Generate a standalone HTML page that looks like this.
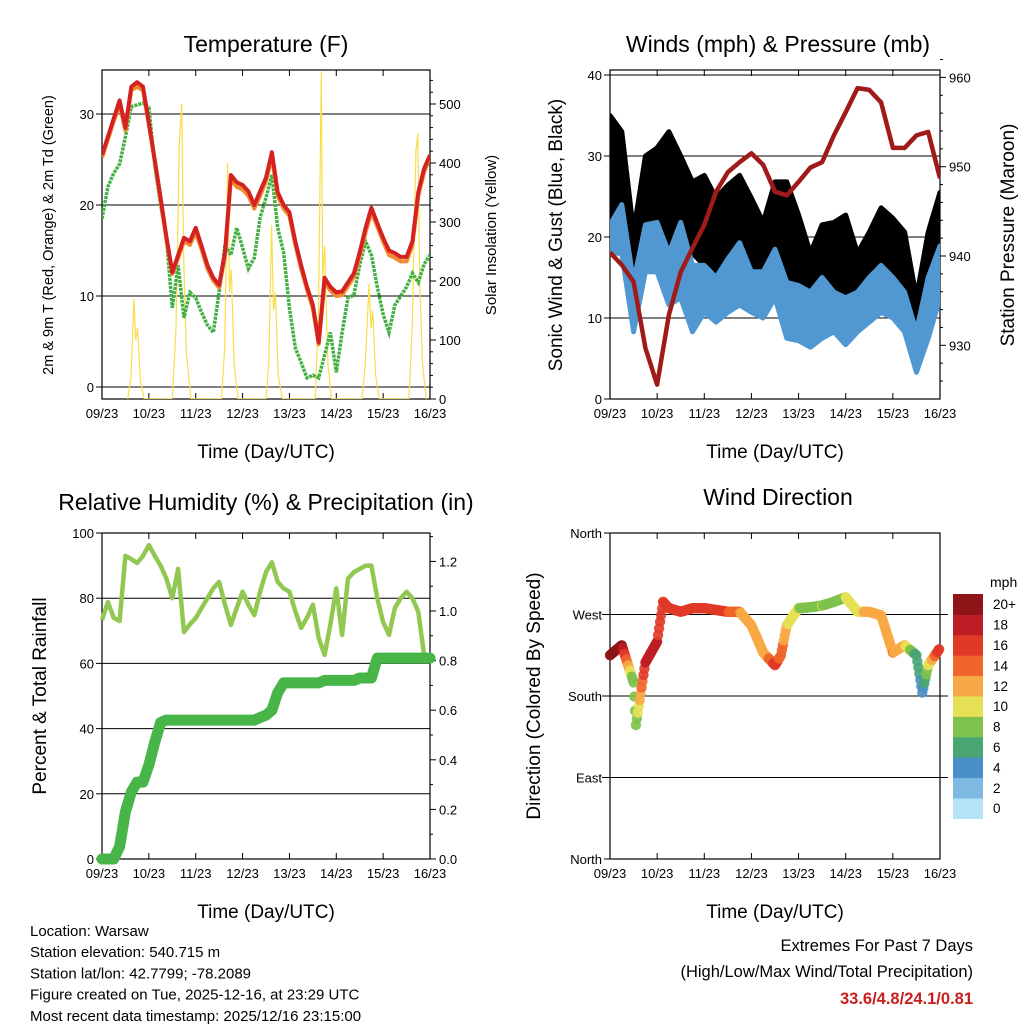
<!DOCTYPE html>
<html><head><meta charset="utf-8"><style>
html,body{margin:0;padding:0;background:#fff;}
svg{display:block;font-family:"Liberation Sans",sans-serif;}
</style></head><body>
<svg id="c" width="1024" height="1024" viewBox="0 0 1024 1024" xmlns="http://www.w3.org/2000/svg"></svg>
<script>
// ---------- data (time in days since 09/23, 3-hourly) ----------
const dayLabels = ["09/23","10/23","11/23","12/23","13/23","14/23","15/23","16/23"];
const temp2m = [25.5,27.5,29.5,31.5,28.5,33,33.5,33,29,25,20.8,16.5,12.6,14.5,16.4,16,17.5,15.5,13.4,12,11.2,14.8,23.3,22.5,22.2,21.5,20,21.5,23,25.8,21.4,20,19.2,16,13.4,11,9,4.9,12,11,10.4,10.5,11.5,12.5,14.8,17.5,19.7,18,16.4,15,14.7,14.3,14.3,16,21.4,24,25.5];
const temp9m = [25.2,27.2,29.2,31,28.2,32.6,33,32.6,28.8,24.8,20.5,16.2,12.4,14.2,16,15.6,17,15.1,13,11.7,10.9,14.4,22.8,22,21.7,21,19.6,21,22.6,25.3,21,19.6,18.8,15.6,13,10.7,8.6,4.7,11.6,10.6,10,10.1,11.1,12.1,14.4,17,19.2,17.6,16,14.5,14.2,13.8,13.8,15.6,21,23.6,25.2];
const dewpt = [18.5,22,23.5,24.5,27.5,30.8,31,31.2,30.7,24.4,20,16.4,8.7,13.4,7.6,10.4,9.8,8.2,6.8,6,10.4,15.6,14.5,17.5,15.3,13,14.2,18.6,20.8,23.3,17.5,14.8,8.7,4.3,2.7,1,1.3,1,3.5,6,1.6,6,9.8,10.1,13.4,16,14.5,11,8,6,9,10,11,12.5,11.5,13.5,14.5];
const solarT = [0.55,0.62,0.68,0.72,0.76,0.82,0.9, 1.5,1.58,1.65,1.7,1.74,1.8,1.9, 2.55,2.62,2.68,2.72,2.76,2.82,2.9, 3.5,3.56,3.62,3.66,3.7,3.76,3.85, 4.55,4.62,4.68,4.71,4.75,4.82,4.9, 5.55,5.62,5.7,5.74,5.78,5.84,5.92, 6.55,6.62,6.7,6.74,6.78,6.84,6.92];
const solarV = [0,40,170,100,120,30,0, 0,120,430,500,250,80,0, 0,90,400,180,220,60,0, 0,60,295,150,180,40,0, 0,150,555,200,260,60,0, 0,60,195,120,150,40,0, 0,120,420,450,200,60,0];
// 6-hourly winds (29 values)
const gustHi = [35,33,20.6,30,31,33,30,26.8,27.6,24.8,26.4,27.6,24.8,21.8,26.8,26.8,22.7,18,21.5,21.8,22.7,18,20.6,23.6,22.3,20.6,12.5,20.6,25.5];
const gustLo = [18,25,12.5,20,20.6,18,15.7,18,16.5,12.5,16.5,16.5,15.7,15.7,18,15.7,12.5,10,12.5,13.2,12.5,10.7,13.2,15,15,12.5,6.7,12.5,18];
const windHi = [21.5,24,14.4,21.5,21.8,18,21.8,16.5,16.5,15,17.3,19.3,15.7,15.7,18.5,14.4,14,13.2,15,13.2,12.5,13.2,15,16.5,15,13.2,8.3,15,18.9];
const windLo = [18,18,8.3,15.7,15.7,11.6,12.5,8.3,10.7,9.5,10.7,11.6,10.7,10,12.5,7.5,7.2,6.4,7.5,8.3,6.7,8.3,9.5,10.7,10,8.3,3.3,7.5,12.5];
const pressure = [940.4,939,937.1,929.7,925.6,933.4,938.2,940.9,943.5,947.2,949.4,950.5,951.5,950.2,947.2,946.8,948.3,949.9,950.5,953.5,956.1,958.8,958.6,957.2,952.1,952.1,953.5,953.9,948.7];
// 3-hourly RH & precip
const rh = [73.3,78.8,74,73,93,92,90.8,93,96.3,93,90,86,80,89,69.6,72,73.9,77,80,83,85,78,71.8,77,82,78,74.8,82,88,91,85,83,82,76,70.9,74,78,67.8,62.6,72,83,68.7,86,88,89,90,90,80,72.7,68.7,77,80,82,80,75.8,62.6,62];
const precip = [0,0,0,0.05,0.19,0.27,0.31,0.31,0.38,0.47,0.55,0.56,0.56,0.56,0.56,0.56,0.56,0.56,0.56,0.56,0.56,0.56,0.56,0.56,0.56,0.56,0.56,0.57,0.58,0.6,0.67,0.71,0.71,0.71,0.71,0.71,0.71,0.71,0.72,0.72,0.72,0.72,0.72,0.72,0.73,0.73,0.73,0.81,0.81,0.81,0.81,0.81,0.81,0.81,0.81,0.81,0.81];
// wind direction (deg) & speed
const dirT = [0,0.25,0.5,0.55,0.75,1.0,1.125,1.25,1.5,1.75,2.0,2.25,2.5,2.75,3.0,3.25,3.5,3.625,3.75,4.0,4.25,4.5,4.75,5.0,5.25,5.5,5.75,6.0,6.25,6.5,6.625,6.75,7.0];
const dirDeg = [225,236,195,148,217,240,284,277,273,277,277,275,273,273,258,228,214,225,258,277,278,280,284,289,273,273,269,228,236,225,184,214,233];
const dirSpd = [21,20,8,8,19,18,17,17,16,17,17,16,16,14,13,12,17,15,12,10,9,10,9,10,11,13,13,14,12,7,5,10,18];
const cbLabels = ["0","2","4","6","8","10","12","14","16","18","20+"];
const cbColors = ["#b4e3f8","#7ebae4","#4a8fc7","#4aa574","#7dc24b","#e6e055","#f7a945","#f06529","#e03a27","#bd1d24","#8e1418"];

// ---------- helpers ----------
const NS="http://www.w3.org/2000/svg";
const svg=document.getElementById('c');
function mk(tag,attrs,parent){const e=document.createElementNS(NS,tag);for(const k in attrs)e.setAttribute(k,attrs[k]);(parent||svg).appendChild(e);return e;}
function txt(s,x,y,size,anchor,parent,extra){const e=mk('text',Object.assign({x:x,y:y,'font-size':size,'text-anchor':anchor||'middle',fill:'#000'},extra||{}),parent);e.textContent=s;return e;}
function grp(name){const g=mk('g',{});return g;}
function series(vals,t0,dt){return vals.map((v,i)=>[t0+i*dt,v]);}
function path(pts,fx,fy){return pts.map((p,i)=>(i?'L':'M')+fx(p[0]).toFixed(1)+' '+fy(p[1]).toFixed(1)).join(' ');}

function frame(P,name){
  const g=grp(name);
  for(let d=0;d<=7;d++){
    const x=P.x(d);
    mk('line',{x1:x,y1:P.B,x2:x,y2:P.B-6,stroke:'#000','stroke-width':1},g);
    mk('line',{x1:x,y1:P.T,x2:x,y2:P.T+6,stroke:'#000','stroke-width':1},g);
    const t=txt(dayLabels[d],x,P.B+19,13,'middle',g);
    
    
  }
  mk('rect',{x:P.L,y:P.T,width:P.R-P.L,height:P.B-P.T,fill:'none',stroke:'#000','stroke-width':1.2},g);
  const xt=txt('Time (Day/UTC)',(P.L+P.R)/2,P.B+59,19,'middle',g);
  
  
  return g;
}
function leftTicks(P,g,vals,labels,fy,grid){
  vals.forEach((v,i)=>{const y=fy(v);
    mk('line',{x1:P.L,y1:y,x2:P.L-6,y2:y,stroke:'#000'},g);
    if(grid)mk('line',{x1:P.L,y1:y,x2:P.R,y2:y,stroke:'#000','stroke-width':1},g);
    const t=txt(labels[i],P.L-8,y+5,13,'end',g);
    
    });
}
function rightTicks(P,g,vals,labels,fy,minor){
  vals.forEach((v,i)=>{const y=fy(v);
    mk('line',{x1:P.R,y1:y,x2:P.R+6,y2:y,stroke:'#000'},g);
    const t=txt(labels[i],P.R+9,y+5,13,'start',g);
    
    });
  (minor||[]).forEach(v=>{const y=fy(v);mk('line',{x1:P.R,y1:y,x2:P.R+3,y2:y,stroke:'#000'},g);});
}
function vtitle(s,x,y,size,g,name){const t=txt(s,x,y,size,'middle',g,{transform:`rotate(-90 ${x} ${y})`});return t;}
function title(s,x,y,g){const t=txt(s,x,y,23,'middle',g);}
function clip(id,P){const c=mk('clipPath',{id:id});mk('rect',{x:P.L,y:P.T,width:P.R-P.L,height:P.B-P.T},c);}

// ---------- Panel 1: Temperature ----------
(function(){
  const P={L:102,R:430,T:70,B:399};
  P.x=t=>P.L+t/7*(P.R-P.L);
  const yl=v=>387-v*9.1, yr=v=>399-v*0.59;
  clip('c1',P);
  const g=frame(P,'temperature-panel');
  title('Temperature (F)',266,52,g);
  leftTicks(P,g,[0,10,20,30],['0','10','20','30'],yl,true);
  const minor=[];for(let v=20;v<=540;v+=20)if(v%100)minor.push(v);
  rightTicks(P,g,[0,100,200,300,400,500],['0','100','200','300','400','500'],yr,minor);
  vtitle('2m & 9m T (Red, Orange) & 2m Td (Green)',53,235,14.5,g,'left-axis-title');
  vtitle('Solar Insolation (Yellow)',496,235,15,g,'right-axis-title');
  const d=grp('temperature-series');d.setAttribute('clip-path','url(#c1)');
  const sol=mk('path',{d:path(solarT.map((t,i)=>[t,solarV[i]]),P.x,yr),fill:'none',stroke:'#f9de4a','stroke-width':1.2},d);
  
  const dw=mk('path',{d:path(series(dewpt,0,0.125),P.x,yl),fill:'none',stroke:'#43b043','stroke-width':3.5,'stroke-dasharray':'3 1'},d);
  
  const o=mk('path',{d:path(series(temp9m,0,0.125),P.x,yl),fill:'none',stroke:'#f28a30','stroke-width':4,'stroke-linejoin':'round'},d);
  
  const r=mk('path',{d:path(series(temp2m,0,0.125),P.x,yl),fill:'none',stroke:'#d42222','stroke-width':4,'stroke-linejoin':'round'},d);
  
})();

// ---------- Panel 2: Winds & pressure ----------
(function(){
  const P={L:610,R:940,T:70,B:399};
  P.x=t=>P.L+t/7*(P.R-P.L);
  const yl=v=>399-v*8.1, yr=p=>256-(p-940)*8.93;
  clip('c2',P);
  const g=frame(P,'winds-panel');
  title('Winds (mph) & Pressure (mb)',778,52,g);
  leftTicks(P,g,[0,10,20,30,40],['0','10','20','30','40'],yl,true);
  const minor=[];for(let v=926;v<=962;v+=2)if(v%10)minor.push(v);
  rightTicks(P,g,[930,940,950,960],['930','940','950','960'],yr,minor);
  vtitle('Sonic Wind & Gust (Blue, Black)',562,235,19,g,'left-axis-title');
  vtitle('Station Pressure (Maroon)',1014,235,19,g,'right-axis-title');
  const d=grp('wind-series');d.setAttribute('clip-path','url(#c2)');
  function band(hi,lo,col,name){
    const top=series(hi,0,0.25), bot=series(lo,0,0.25).reverse();
    const e=mk('path',{d:path(top.concat(bot),P.x,yl)+'Z',fill:col,stroke:col,'stroke-width':5,'stroke-linejoin':'round'},d);
    
  }
  band(gustHi,gustLo,'#000','gust-points');
  band(windHi,windLo,'#5198d2','sustained-wind-line');
  const p=mk('path',{d:path(series(pressure,0,0.25),P.x,yr),fill:'none',stroke:'#a01a1a','stroke-width':4.5,'stroke-linejoin':'round'},d);
  
})();

// ---------- Panel 3: RH & precip ----------
(function(){
  const P={L:102,R:430,T:533,B:859};
  P.x=t=>P.L+t/7*(P.R-P.L);
  const yl=v=>859-v*3.26, yr=v=>859-v*248;
  clip('c3',P);
  const g=frame(P,'humidity-panel');
  title('Relative Humidity (%) & Precipitation (in)',266,510,g);
  leftTicks(P,g,[0,20,40,60,80,100],['0','20','40','60','80','100'],yl,true);
  const minor=[];for(let v=0.1;v<1.3;v+=0.2)minor.push(v);
  rightTicks(P,g,[0,0.2,0.4,0.6,0.8,1.0,1.2],['0.0','0.2','0.4','0.6','0.8','1.0','1.2'],yr,minor);
  vtitle('Percent & Total Rainfall',46,696,19,g,'left-axis-title');
  const d=grp('humidity-series');
  const r=mk('path',{d:path(series(rh,0,0.125),P.x,yl),fill:'none',stroke:'#92c852','stroke-width':4.5,'stroke-linejoin':'round'},d);
  
  const p=mk('path',{d:path(series(precip,0,0.125),P.x,yr),fill:'none',stroke:'#48b548','stroke-width':11,'stroke-linejoin':'round','stroke-linecap':'round'},d);
  
})();

// ---------- Panel 4: Wind direction ----------
(function(){
  const P={L:610,R:940,T:533,B:859};
  P.x=t=>P.L+t/7*(P.R-P.L);
  const yd=v=>859-v*326/360;
  clip('c4',P);
  const g=frame(P,'wind-direction-panel');
  title('Wind Direction',778,505,g);
  leftTicks(P,g,[0,90,180,270,360],['North','East','South','West','North'],yd,false);
  [90,180,270].forEach(v=>mk('line',{x1:P.L-8,y1:yd(v),x2:P.R+8,y2:yd(v),stroke:'#000'},g));
  vtitle('Direction (Colored By Speed)',540,696,19,g,'left-axis-title');
  const d=grp('direction-points');
  function col(s){return cbColors[Math.max(0,Math.min(10,Math.floor(s/2)))];}
  for(let i=0;i<dirT.length-1;i++){
    const n=Math.max(2,Math.round((dirT[i+1]-dirT[i])/0.02));
    for(let k=0;k<n;k++){
      const f=k/n,t=dirT[i]+f*(dirT[i+1]-dirT[i]);
      const v=dirDeg[i]+f*(dirDeg[i+1]-dirDeg[i]);
      const s=dirSpd[i]+f*(dirSpd[i+1]-dirSpd[i]);
      const c=mk('circle',{cx:P.x(t).toFixed(1),cy:yd(v).toFixed(1),r:5.2,fill:col(s),'fill-opacity':0.9},d);
      
      
    }
  }
  const cb=grp('speed-colorbar');
  const top=594,h=20.4;
  for(let i=0;i<11;i++){
    const y=top+(10-i)*h;
    const r=mk('rect',{x:953,y:y,width:30,height:h+0.5,fill:cbColors[i]},cb);
    
    
    const t=txt(cbLabels[i],993,y+h/2+5,13.5,'start',cb);
    
    
  }
  const m=txt('mph',990,587,14,'start',cb);
  
  
})();

// ---------- footer text ----------
(function(){
  const g=grp('station-info');
  ['Location: Warsaw','Station elevation: 540.715 m','Station lat/lon: 42.7799; -78.2089','Figure created on Tue, 2025-12-16, at 23:29 UTC','Most recent data timestamp: 2025/12/16 23:15:00']
   .forEach((s,i)=>txt(s,30,936+i*21.2,15,'start',g));
  const e=grp('extremes-info');
  txt('Extremes For Past 7 Days',973,951,16.5,'end',e);
  txt('(High/Low/Max Wind/Total Precipitation)',973,977,16.5,'end',e);
  txt('33.6/4.8/24.1/0.81',973,1004,16.5,'end',e,{fill:'#c8201e','font-weight':'bold'});
})();
</script>
</body></html>
